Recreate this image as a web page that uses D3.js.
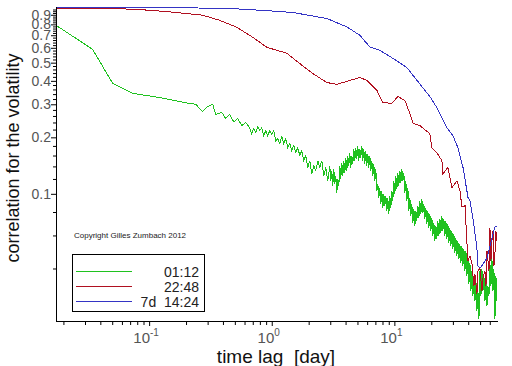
<!DOCTYPE html>
<html>
<head>
<meta charset="utf-8">
<script src="https://cdn.jsdelivr.net/npm/d3@7"></script>
<style>
  body { margin: 0; background: #fff; }
  text { font-family: "Liberation Sans", Arial, sans-serif; }
</style>
</head>
<body>
<div id="chart"></div>
<script>
// ---- data ----
const seriesNames = ["01:12", "22:48", "7d  14:24"];

const greenLag = [0.0174, 0.0346, 0.0504, 0.0733, 0.122, 0.161, 0.214, 0.240, 0.273, 0.300, 0.330, 0.349, 0.391, 0.421, 0.454, 0.490, 0.528, 0.569, 0.613,
  0.661, 0.686, 0.713, 0.740, 0.768, 0.798, 0.828, 0.860, 0.893, 0.927, 0.963, 1.000, 1.038, 1.078, 1.119, 1.162, 1.207, 1.253, 1.301, 1.351,
  1.403, 1.456, 1.512, 1.570, 1.630, 1.693, 1.757, 1.825, 1.895, 1.967, 2.043, 2.121, 2.202, 2.286, 2.374, 2.465, 2.559, 2.657, 2.759, 2.865,
  2.975, 3.032, 3.089, 3.148, 3.207, 3.268, 3.330, 3.393, 3.457, 3.523, 3.590, 3.658, 3.727, 3.798, 3.870, 3.944, 4.018, 4.094, 4.172, 4.251,
  4.332, 4.414, 4.498, 4.583, 4.670, 4.759, 4.849, 4.941, 5.035, 5.131, 5.227, 5.326, 5.428, 5.531, 5.635, 5.742, 5.851, 5.962, 6.075, 6.190,
  6.308, 6.428, 6.550, 6.674, 6.800, 6.929, 7.061, 7.195, 7.331, 7.470, 7.612, 7.757, 7.904, 8.054, 8.206, 8.362, 8.521, 8.683, 8.847, 9.015,
  9.186, 9.361, 9.538, 9.719, 9.903, 10.09, 10.28, 10.48, 10.68, 10.88, 11.09, 11.30, 11.51, 11.73, 11.95, 12.18, 12.41, 12.65, 12.88, 13.12,
  13.38, 13.63, 13.89, 14.15, 14.42, 14.69, 14.97, 15.25, 15.55, 15.85, 16.14, 16.45, 16.76, 17.08, 17.40, 17.73, 18.07, 18.41, 18.76, 19.12,
  19.48, 19.85, 20.23, 20.61, 21.00, 21.40, 21.81, 22.22, 22.64, 23.07, 23.51, 23.96, 24.41, 24.87, 25.35, 25.83, 26.32, 26.82, 27.33, 27.85,
  28.37, 28.91, 29.46, 30.02, 30.59, 31.17, 31.76, 32.36, 32.98, 33.61, 34.24, 34.89, 35.55, 36.22, 36.91, 37.61, 38.33, 39.06, 39.80, 40.56,
  41.32, 42.11, 42.90, 43.72, 44.55, 45.40, 46.25, 47.13, 48.03, 48.94, 49.86, 50.81, 51.77, 52.75, 53.76, 54.78, 55.82, 56.88, 57.95, 59.05,
  60.17, 61.31, 62.48, 63.67, 64.87, 66.10, 67.36, 68.6];
const greenCorr = [0.791, 0.589, 0.388, 0.343, 0.326, 0.314, 0.303, 0.300, 0.274, 0.292, 0.300, 0.265, 0.272, 0.252, 0.265, 0.242, 0.252, 0.231, 0.240,
  0.225, 0.209, 0.223, 0.212, 0.228, 0.217, 0.225, 0.204, 0.217, 0.204, 0.217, 0.207, 0.217, 0.192, 0.197, 0.185, 0.204, 0.185, 0.197, 0.176,
  0.185, 0.170, 0.181, 0.166, 0.176, 0.160, 0.170, 0.150, 0.160, 0.138, 0.150, 0.128, 0.141, 0.133, 0.150, 0.138, 0.150, 0.125, 0.138, 0.117,
  0.1412, 0.1174, 0.1327, 0.1104, 0.1360, 0.1131, 0.1248, 0.1013, 0.1203, 0.1104, 0.1412, 0.1203, 0.1465, 0.1248, 0.1501, 0.1295, 0.1558, 0.1327, 0.1597, 0.1412,
  0.1657, 0.1377, 0.1597, 0.1447, 0.1740, 0.1501, 0.1762, 0.1539, 0.1806, 0.1501, 0.1740, 0.1558, 0.1806, 0.1501, 0.1740, 0.1447, 0.1698, 0.1412, 0.1636, 0.1377,
  0.1597, 0.1327, 0.1501, 0.1248, 0.1447, 0.1174, 0.1360, 0.1038, 0.1131, 0.0952, 0.1077, 0.0884, 0.1038, 0.0842, 0.1000, 0.0863, 0.0976, 0.0812, 0.0952, 0.0782,
  0.0976, 0.0842, 0.1038, 0.0918, 0.1174, 0.1000, 0.1248, 0.1064, 0.1295, 0.1104, 0.1327, 0.1145, 0.1360, 0.1174, 0.1295, 0.1013, 0.1174, 0.0918, 0.1077, 0.0812,
  0.0952, 0.0763, 0.0884, 0.0700, 0.0832, 0.0675, 0.0812, 0.0718, 0.0863, 0.0745, 0.0918, 0.0782, 0.0940, 0.0792, 0.0884, 0.0736, 0.0842, 0.0692, 0.0812, 0.0659,
  0.0782, 0.0635, 0.0745, 0.0597, 0.0700, 0.0561, 0.0675, 0.0575, 0.0718, 0.0597, 0.0736, 0.0619, 0.0763, 0.0635, 0.0736, 0.0597, 0.0718, 0.0575, 0.0692, 0.0548,
  0.0659, 0.0528, 0.0635, 0.0509, 0.0612, 0.0484, 0.0582, 0.0467, 0.0561, 0.0450, 0.0541, 0.0428, 0.0528, 0.0412, 0.0509, 0.0388, 0.0496, 0.0365, 0.0450, 0.0330,
  0.0428, 0.0303, 0.0388, 0.0285, 0.0365, 0.0268, 0.0343, 0.0237, 0.0303, 0.0215, 0.0388, 0.0285, 0.0398, 0.0303, 0.0365, 0.0268, 0.0343, 0.0252, 0.0322, 0.0285,
  0.0428, 0.0322, 0.0450, 0.0303, 0.0398, 0.0215, 0.0365, 0.0268];

const redLag = [0.0174, 0.0425, 0.0791, 0.147, 0.273, 0.376, 0.518, 0.700, 0.910, 1.33, 1.69, 2.16, 2.81, 3.40, 4.33, 5.23, 5.97, 7.20, 8.05,
  9.54, 10.68, 12.2, 13.38, 14.2, 16.14, 19.48, 20.23, 22.2, 24.41, 24.9, 27.33, 29.46, 32.4, 34.24, 35.55, 37.7, 39.1, 39.80, 41.32, 42.90,
  44.55, 45.4, 47.1, 48.03, 49.86, 51.77, 52.8, 54.8, 55.82, 56.9, 59.1, 60.17, 61.3, 62.48, 63.7, 64.87, 66.1, 67.36, 68.6];
const redCorr = [0.974, 0.974, 0.962, 0.933, 0.895, 0.841, 0.772, 0.683, 0.604, 0.561, 0.495, 0.438, 0.392, 0.383, 0.402, 0.417, 0.402, 0.356, 0.307,
  0.303, 0.330, 0.314, 0.268, 0.237, 0.231, 0.209, 0.176, 0.166, 0.150, 0.128, 0.138, 0.108, 0.117, 0.104, 0.0853, 0.0863, 0.0541, 0.0438, 0.0466, 0.0428,
  0.0322, 0.0373, 0.0292, 0.0388, 0.0402, 0.0303, 0.0356, 0.0388, 0.0322, 0.0496, 0.0388, 0.0658, 0.0438, 0.0561, 0.0634, 0.0412, 0.0478, 0.0634, 0.0561];

const blueLag = [0.0174, 0.107, 0.429, 0.798, 1.48, 2.81, 4.09, 5.23, 6.31, 7.61, 9.73, 12.6, 15.3, 19.48, 22.2, 26.8, 30.0, 33.0, 36.3, 39.9,
  41.32, 43.7, 47.1, 48.0, 49.86, 52.8, 56.9, 62.5, 66.1, 68.6];
const blueCorr = [0.988, 0.984, 0.974, 0.952, 0.926, 0.860, 0.776, 0.700, 0.606, 0.582, 0.527, 0.472, 0.402, 0.330, 0.288, 0.225, 0.204, 0.176, 0.138, 0.0952,
  0.0918, 0.0744, 0.0515, 0.0412, 0.0402, 0.0422, 0.0455, 0.0582, 0.0666, 0.0675];

const yMajorTicks = [0.1, 0.2, 0.3, 0.4, 0.5, 0.6, 0.7, 0.8, 0.9];
const yMinorTicks = [0.04, 0.06, 0.08, 0.12, 0.14, 0.16, 0.18, 0.22, 0.24, 0.26, 0.28, 0.32, 0.34, 0.36, 0.38, 0.42, 0.44, 0.46, 0.48,
  0.52, 0.54, 0.56, 0.58, 0.62, 0.64, 0.66, 0.68, 0.72, 0.74, 0.76, 0.78, 0.82, 0.84, 0.86, 0.88, 0.92, 0.94, 0.96];
const xMajorTicks = [0.1, 1, 10];
const xTickExp = ["-1", "0", "1"];
const xMinorTicks = [0.02, 0.03, 0.04, 0.05, 0.06, 0.07, 0.08, 0.09, 0.2, 0.3, 0.4, 0.5, 0.6, 0.7, 0.8, 0.9,
  2, 3, 4, 5, 6, 7, 8, 9, 20, 30, 40, 50, 60];

const colors = ["#1fc21f", "#b01020", "#3434c4"];

// ---- layout ----
const W = 512, H = 366;
const pLeft = 56, pRight = 497, pTop = 7, pBottom = 321;

const svg = d3.select("#chart").append("svg")
  .attr("width", W).attr("height", H);

const x = d3.scaleLog().domain([0.0174, 68.7]).range([pLeft, pRight]);
const y = d3.scaleLog().domain([0.021, 0.99]).range([pBottom, pTop]);

svg.append("clipPath").attr("id", "clip")
  .append("rect").attr("x", pLeft).attr("y", pTop - 2).attr("width", pRight - pLeft + 1).attr("height", pBottom - pTop + 2);

const line = d3.line()
  .x(d => x(d[0]))
  .y(d => y(d[1]));

const series = [
  d3.zip(greenLag, greenCorr),
  d3.zip(redLag, redCorr),
  d3.zip(blueLag, blueCorr)
];

svg.append("g").attr("clip-path", "url(#clip)")
  .selectAll("path")
  .data(series)
  .join("path")
  .attr("d", line)
  .attr("fill", "none")
  .attr("stroke", (d, i) => colors[i])
  .attr("stroke-width", 1)
  .attr("shape-rendering", "crispEdges");

// y axis
const yAxis = svg.append("g")
  .attr("transform", "translate(" + pLeft + ",0)")
  .call(d3.axisLeft(y).tickValues(yMajorTicks).tickSize(5).tickFormat(d3.format(".1f")));
yAxis.select(".domain").attr("d", "M0.5," + pTop + "V" + (pBottom + 0.5));
yAxis.selectAll("text").attr("font-size", 14).attr("fill", "#555").attr("font-family", "Liberation Sans, Arial").attr("x", -5);

svg.append("g")
  .attr("transform", "translate(" + pLeft + ",0)")
  .call(d3.axisLeft(y).tickValues(yMinorTicks).tickSize(3).tickFormat(""))
  .select(".domain").remove();

// x axis
const xAxis = svg.append("g")
  .attr("transform", "translate(0," + pBottom + ")")
  .call(d3.axisBottom(x).tickValues(xMajorTicks).tickSize(5).tickFormat(""));
xAxis.select(".domain").attr("d", "M" + pLeft + ",0.5H" + (pRight + 1));

svg.append("g")
  .attr("transform", "translate(0," + pBottom + ")")
  .call(d3.axisBottom(x).tickValues(xMinorTicks).tickSize(4).tickFormat(""))
  .select(".domain").remove();

const xl = svg.append("g").selectAll("text")
  .data(xMajorTicks)
  .join("text")
  .attr("x", d => x(d) - 3)
  .attr("y", pBottom + 22)
  .attr("text-anchor", "middle")
  .attr("font-size", 15)
  .attr("fill", "#555");
xl.append("tspan").text("10");
xl.append("tspan").attr("dy", -7).attr("font-size", 10).text((d, i) => xTickExp[i]);

// axis titles
svg.append("text")
  .attr("x", 276).attr("y", 363)
  .attr("text-anchor", "middle")
  .attr("font-size", 19)
  .attr("fill", "#111")
  .style("white-space", "pre")
  .text("time lag  [day]");

svg.append("text")
  .attr("transform", "translate(19,158) rotate(-90)")
  .attr("text-anchor", "middle")
  .attr("font-size", 18)
  .attr("fill", "#111")
  .text("correlation for the volatility");

// copyright
svg.append("text")
  .attr("x", 74).attr("y", 238)
  .attr("font-size", 8)
  .attr("fill", "#222")
  .text("Copyright Gilles Zumbach 2012");

// legend
const lg = svg.append("g");
lg.append("rect")
  .attr("x", 72.5).attr("y", 254.5).attr("width", 132).attr("height", 57)
  .attr("fill", "#fff").attr("stroke", "#000");
const rows = lg.selectAll("g.row").data(seriesNames).join("g").attr("class", "row")
  .attr("transform", (d, i) => "translate(0," + (271.5 + i * 15) + ")");
rows.append("line").attr("x1", 76).attr("x2", 132)
  .attr("stroke", (d, i) => colors[i]).attr("stroke-width", 1);
rows.append("text").attr("x", 199).attr("y", 5)
  .attr("text-anchor", "end").attr("font-size", 14).attr("fill", "#222")
  .style("white-space", "pre")
  .text(d => d);
</script>
</body>
</html>
